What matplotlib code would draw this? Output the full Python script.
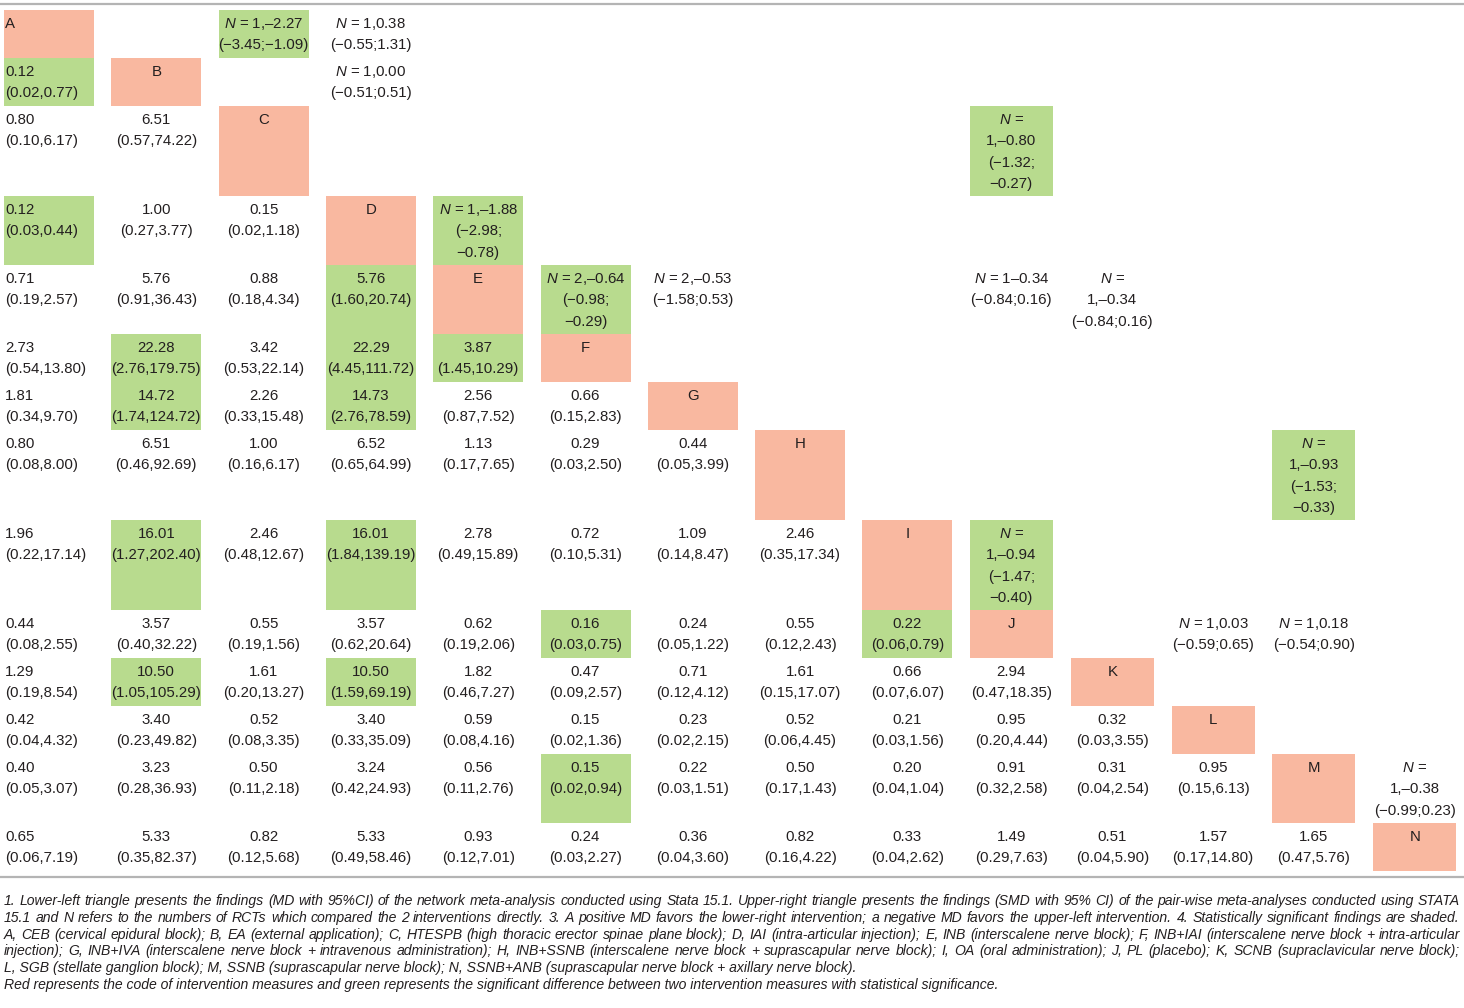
import matplotlib
matplotlib.use('Agg')
import matplotlib.pyplot as plt
from matplotlib.patches import Rectangle

plt.rcParams['font.family'] = ['Liberation Sans', 'DejaVu Sans']
plt.rcParams['mathtext.fontset'] = 'custom'
plt.rcParams['mathtext.rm'] = 'Liberation Sans'
plt.rcParams['mathtext.it'] = 'Liberation Sans:italic'

# Códigos das intervenções (diagonal)
codes = list('ABCDEFGHIJKLMN')

# Triângulo inferior: MD da meta-análise em rede (estimativa, IC 95%)
nma_est = [
    [],
    [0.12],
    [0.80, 6.51],
    [0.12, 1.00, 0.15],
    [0.71, 5.76, 0.88, 5.76],
    [2.73, 22.28, 3.42, 22.29, 3.87],
    [1.81, 14.72, 2.26, 14.73, 2.56, 0.66],
    [0.80, 6.51, 1.00, 6.52, 1.13, 0.29, 0.44],
    [1.96, 16.01, 2.46, 16.01, 2.78, 0.72, 1.09, 2.46],
    [0.44, 3.57, 0.55, 3.57, 0.62, 0.16, 0.24, 0.55, 0.22],
    [1.29, 10.50, 1.61, 10.50, 1.82, 0.47, 0.71, 1.61, 0.66, 2.94],
    [0.42, 3.40, 0.52, 3.40, 0.59, 0.15, 0.23, 0.52, 0.21, 0.95, 0.32],
    [0.40, 3.23, 0.50, 3.24, 0.56, 0.15, 0.22, 0.50, 0.20, 0.91, 0.31, 0.95],
    [0.65, 5.33, 0.82, 5.33, 0.93, 0.24, 0.36, 0.82, 0.33, 1.49, 0.51, 1.57, 1.65],
]
nma_lo = [
    [],
    [0.02],
    [0.10, 0.57],
    [0.03, 0.27, 0.02],
    [0.19, 0.91, 0.18, 1.60],
    [0.54, 2.76, 0.53, 4.45, 1.45],
    [0.34, 1.74, 0.33, 2.76, 0.87, 0.15],
    [0.08, 0.46, 0.16, 0.65, 0.17, 0.03, 0.05],
    [0.22, 1.27, 0.48, 1.84, 0.49, 0.10, 0.14, 0.35],
    [0.08, 0.40, 0.19, 0.62, 0.19, 0.03, 0.05, 0.12, 0.06],
    [0.19, 1.05, 0.20, 1.59, 0.46, 0.09, 0.12, 0.15, 0.07, 0.47],
    [0.04, 0.23, 0.08, 0.33, 0.08, 0.02, 0.02, 0.06, 0.03, 0.20, 0.03],
    [0.05, 0.28, 0.11, 0.42, 0.11, 0.02, 0.03, 0.17, 0.04, 0.32, 0.04, 0.15],
    [0.06, 0.35, 0.12, 0.49, 0.12, 0.03, 0.04, 0.16, 0.04, 0.29, 0.04, 0.17, 0.47],
]
nma_hi = [
    [],
    [0.77],
    [6.17, 74.22],
    [0.44, 3.77, 1.18],
    [2.57, 36.43, 4.34, 20.74],
    [13.80, 179.75, 22.14, 111.72, 10.29],
    [9.70, 124.72, 15.48, 78.59, 7.52, 2.83],
    [8.00, 92.69, 6.17, 64.99, 7.65, 2.50, 3.99],
    [17.14, 202.40, 12.67, 139.19, 15.89, 5.31, 8.47, 17.34],
    [2.55, 32.22, 1.56, 20.64, 2.06, 0.75, 1.22, 2.43, 0.79],
    [8.54, 105.29, 13.27, 69.19, 7.27, 2.57, 4.12, 17.07, 6.07, 18.35],
    [4.32, 49.82, 3.35, 35.09, 4.16, 1.36, 2.15, 4.45, 1.56, 4.44, 3.55],
    [3.07, 36.93, 2.18, 24.93, 2.76, 0.94, 1.51, 1.43, 1.04, 2.58, 2.54, 6.13],
    [7.19, 82.37, 5.68, 58.46, 7.01, 2.27, 3.60, 4.22, 2.62, 7.63, 5.90, 14.80, 5.76],
]

# Triângulo superior: SMD das meta-análises pareadas (texto como no original)
pw_row = ['A', 'A', 'B', 'C', 'D', 'E', 'E', 'E', 'E', 'H', 'I', 'J', 'J', 'M']
pw_col = ['C', 'D', 'D', 'J', 'E', 'F', 'G', 'J', 'K', 'M', 'J', 'L', 'M', 'N']
pw_text = [
    '$N$ = 1,–2.27\n(−3.45;−1.09)',
    '$N$ = 1,0.38\n(−0.55;1.31)',
    '$N$ = 1,0.00\n(−0.51;0.51)',
    '$N$ =\n1,–0.80\n(−1.32;\n−0.27)',
    '$N$ = 1,–1.88\n(−2.98;\n−0.78)',
    '$N$ = 2,–0.64\n(−0.98;\n−0.29)',
    '$N$ = 2,–0.53\n(−1.58;0.53)',
    '$N$ = 1–0.34\n(−0.84;0.16)',
    '$N$ =\n1,–0.34\n(−0.84;0.16)',
    '$N$ =\n1,–0.93\n(−1.53;\n−0.33)',
    '$N$ =\n1,–0.94\n(−1.47;\n−0.40)',
    '$N$ = 1,0.03\n(−0.59;0.65)',
    '$N$ = 1,0.18\n(−0.54;0.90)',
    '$N$ =\n1,–0.38\n(−0.99;0.23)',
]
pw_sig = [True, False, False, True, True, True, False, False, False,
          True, True, False, False, False]

footnote = [
    '1. Lower-left triangle presents the findings (MD with 95%CI) of the network meta-analysis conducted using Stata 15.1. Upper-right triangle presents the findings (SMD with 95% CI) of the pair-wise meta-analyses conducted using STATA',
    '15.1 and N refers to the numbers of RCTs which compared the 2 interventions directly. 3. A positive MD favors the lower-right intervention; a negative MD favors the upper-left intervention. 4. Statistically significant findings are shaded.',
    'A, CEB (cervical epidural block); B, EA (external application); C, HTESPB (high thoracic erector spinae plane block); D, IAI (intra-articular injection); E, INB (interscalene nerve block); F, INB+IAI (interscalene nerve block + intra-articular',
    'injection); G, INB+IVA (interscalene nerve block + intravenous administration); H, INB+SSNB (interscalene nerve block + suprascapular nerve block); I, OA (oral administration); J, PL (placebo); K, SCNB (supraclavicular nerve block);',
    'L, SGB (stellate ganglion block); M, SSNB (suprascapular nerve block); N, SSNB+ANB (suprascapular nerve block + axillary nerve block).',
    'Red represents the code of intervention measures and green represents the significant difference between two intervention measures with statistical significance.',
]
justified = [True, True, True, True, False, False]

# Cores e estilo
RED = '#f9b8a0'
GREEN = '#b8db8e'
INK = '#231f20'
RULE = '#b4b4b4'
FS = 10.8
n = len(codes)

# Montar o conteúdo das células
cells = {}
for i in range(n):
    cells[(i, i)] = ([codes[i]], RED)
    for j in range(i):
        est, lo, hi = nma_est[i][j], nma_lo[i][j], nma_hi[i][j]
        sig = hi < 1 or lo > 1
        cells[(i, j)] = ([f'{est:.2f}', f'({lo:.2f},{hi:.2f})'], GREEN if sig else None)
for r, c, t, s in zip(pw_row, pw_col, pw_text, pw_sig):
    cells[(codes.index(r), codes.index(c))] = (t.split('\n'), GREEN if s else None)

# Geometria da tabela (pixels)
col_left = [4 + 107.3 * k if k < 10 else 970 + 100.8 * (k - 9) for k in range(n)]
col_w = [90 if k < 9 else 83 for k in range(n)]
line_h = 21.5
row_lines = [max(len(cells[(i, j)][0]) for j in range(n) if (i, j) in cells) for i in range(n)]
row_top = [10]
for i in range(n - 1):
    row_top.append(row_top[-1] + 6 + 21 * row_lines[i])

fig = plt.figure(figsize=(14.64, 10.08), dpi=100)
ax = fig.add_axes([0, 0, 1, 1])
ax.set_xlim(0, 1464)
ax.set_ylim(1008, 0)
ax.axis('off')

ax.axhline(4, color=RULE, lw=1.6)
ax.axhline(877, color=RULE, lw=1.6)

for (i, j), (lines, fill) in cells.items():
    x0, y0 = col_left[j], row_top[i]
    h = 6 + 21 * row_lines[i]
    if fill:
        ax.add_patch(Rectangle((x0, y0), col_w[j], h, facecolor=fill, edgecolor='none'))
    for k, s in enumerate(lines):
        yb = y0 + 12.5 + k * line_h + 5.3
        if j == 0:
            ax.text(x0 + 1, yb, s, ha='left', va='baseline', fontsize=FS, color=INK)
        else:
            ax.text(x0 + col_w[j] / 2, yb, s, ha='center', va='baseline', fontsize=FS, color=INK)

# Nota de rodapé, justificada
fig.canvas.draw()
renderer = fig.canvas.get_renderer()


def width_of(s, size):
    t = ax.text(0, 0, s, fontsize=size, style='italic')
    w = t.get_window_extent(renderer).width
    t.remove()
    return w


fn_size = 9 * 1004 / width_of(footnote[-1], 9)
fn_left, fn_right = 4, 1460
for k, (line, just) in enumerate(zip(footnote, justified)):
    y = 901 + k * 16.8
    if not just:
        ax.text(fn_left, y, line, ha='left', va='center', fontsize=fn_size,
                style='italic', color=INK)
        continue
    words = line.split(' ')
    widths = [width_of(w, fn_size) for w in words]
    gap = (fn_right - fn_left - sum(widths)) / (len(words) - 1)
    x = fn_left
    for w, wd in zip(words, widths):
        ax.text(x, y, w, ha='left', va='center', fontsize=fn_size,
                style='italic', color=INK)
        x += wd + gap

plt.savefig('out.png', dpi=100)
